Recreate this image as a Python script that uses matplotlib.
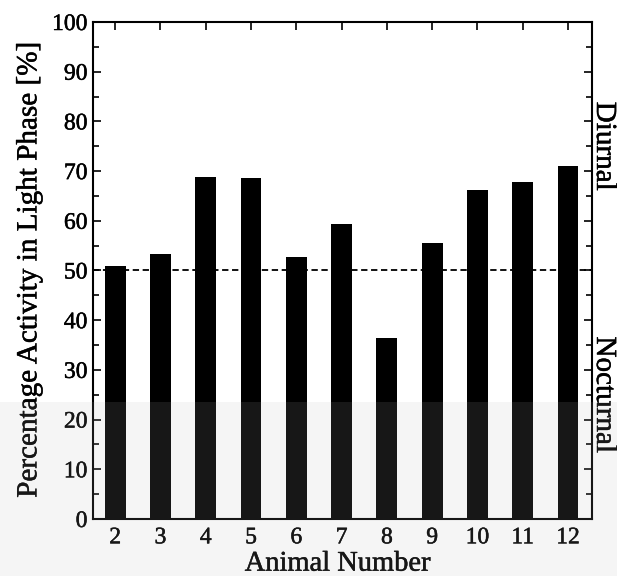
import matplotlib
matplotlib.use("Agg")
import matplotlib.pyplot as plt
import matplotlib.patheffects as pe
from matplotlib.ticker import MultipleLocator
from matplotlib.patches import Rectangle

# Share of locomotor activity falling in the light phase, per animal
animals = [2, 3, 4, 5, 6, 7, 8, 9, 10, 11, 12]
light_pct = [51.0, 53.3, 68.9, 68.7, 52.7, 59.3, 36.4, 55.6, 66.1, 67.8, 71.1]
threshold = 50
side_labels = ["Diurnal", "Nocturnal"]

plt.rcParams["font.family"] = ["Liberation Serif", "DejaVu Serif"]
heavy = [pe.withStroke(linewidth=0.35, foreground="black")]

fig = plt.figure(figsize=(6.17, 5.76), dpi=100)
ax = fig.add_axes([0.1507, 0.099, 0.8088, 0.8628])

ax.bar(animals, light_pct, width=0.46, color="black", zorder=2)
ax.axhline(threshold, color="black", linestyle=(0, (3.5, 2)), linewidth=1.3, zorder=3)

ax.set_xlim(1.51, 12.53)
ax.set_ylim(0, 100)
ax.set_xticks(animals)
ax.yaxis.set_major_locator(MultipleLocator(10))
ax.yaxis.set_minor_locator(MultipleLocator(5))

ax.tick_params(axis="both", which="both", direction="in", top=True, right=True,
               labelsize=17, width=1.2, color="black")
ax.tick_params(axis="both", which="major", length=6)
ax.tick_params(axis="y", which="minor", length=4)
ax.tick_params(axis="x", which="major", pad=6)
ax.tick_params(axis="y", which="major", pad=4)
for s in ax.spines.values():
    s.set_linewidth(1.5)
for lbl in ax.get_xticklabels() + ax.get_yticklabels():
    lbl.set_path_effects(heavy)

ax.set_xlabel("Animal Number", fontsize=20.5, path_effects=heavy)
ax.xaxis.label.set_va("baseline")
ax.xaxis.set_label_coords(0.49, -0.104)
ax.set_ylabel("Percentage Activity in Light Phase [%]", fontsize=21,
              labelpad=7, path_effects=heavy)

for val, txt in zip([75, 25], side_labels):
    ax.text(1.010, val, txt, transform=ax.get_yaxis_transform(),
            rotation=-90, rotation_mode="anchor", ha="center", va="baseline",
            fontsize=21, path_effects=heavy)

# faint grey band across the lower part of the page
fig.patches.append(Rectangle((0, 0), 1, 1 - 402 / 576, transform=fig.transFigure,
                             facecolor="0.7", alpha=0.13, edgecolor="none",
                             zorder=10))

fig.savefig("out.png", dpi=100)
